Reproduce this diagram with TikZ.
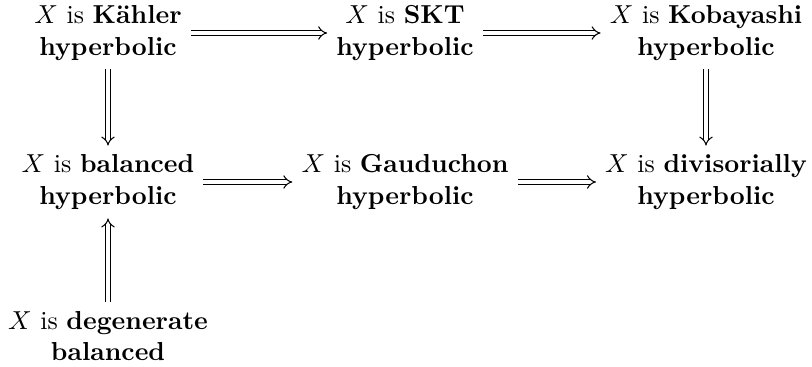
\documentclass[tikz,border=0pt]{standalone}
\usepackage{fontspec}
\usetikzlibrary{arrows.meta}
\tikzset{
  prop/.style={align=center},
  impl/.style={double, double distance=1.4pt, -{Implies}},
}
\begin{document}
\begin{tikzpicture}[x=0.3846pt,y=0.3846pt]
\useasboundingbox (0,0) rectangle (812,366);
\node[prop] (kahler) at (108,333) {$X$ is \textbf{Kähler}\\ \textbf{hyperbolic}};
\node[prop] (skt) at (405,333) {$X$ is \textbf{SKT}\\ \textbf{hyperbolic}};
\node[prop] (kobayashi) at (706,333) {$X$ is \textbf{Kobayashi}\\ \textbf{hyperbolic}};
\node[prop] (balanced) at (108,184) {$X$ is \textbf{balanced}\\ \textbf{hyperbolic}};
\node[prop] (gauduchon) at (405,184) {$X$ is \textbf{Gauduchon}\\ \textbf{hyperbolic}};
\node[prop] (divisorial) at (706,184) {$X$ is \textbf{divisorially}\\ \textbf{hyperbolic}};
\node[prop] (degenerate) at (108,30) {$X$ is \textbf{degenerate}\\ \textbf{balanced}};
\draw[impl] (kahler) -- (skt);
\draw[impl] (skt) -- (kobayashi);
\draw[impl] (kahler) -- (balanced);
\draw[impl] (kobayashi) -- (divisorial);
\draw[impl] (balanced) -- (gauduchon);
\draw[impl] (gauduchon) -- (divisorial);
\draw[impl] (degenerate) -- (balanced);
\end{tikzpicture}
\end{document}
